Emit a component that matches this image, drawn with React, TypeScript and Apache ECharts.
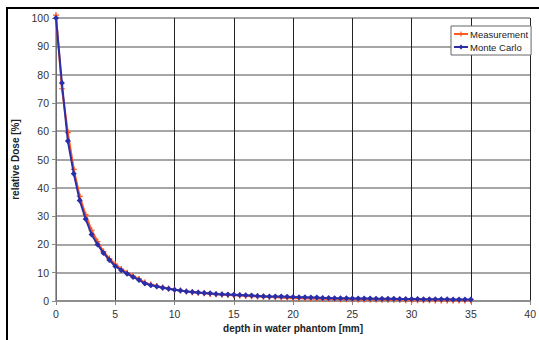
import React, { useEffect, useRef } from "react";
import * as echarts from "echarts";

const depth = [
  0, 0.5, 1, 1.5, 2, 2.5, 3, 3.5, 4, 4.5, 5, 5.5, 6, 6.5, 7, 7.5, 8, 8.5, 9, 9.5,
  10, 10.5, 11, 11.5, 12, 12.5, 13, 13.5, 14, 14.5, 15, 15.5, 16, 16.5, 17, 17.5,
  18, 18.5, 19, 19.5, 20, 20.5, 21, 21.5, 22, 22.5, 23, 23.5, 24, 24.5, 25, 25.5,
  26, 26.5, 27, 27.5, 28, 28.5, 29, 29.5, 30, 30.5, 31, 31.5, 32, 32.5, 33, 33.5,
  34, 34.5, 35,
];

const measurement = [
  101, 75, 59.5, 46.5, 37, 30.5, 25, 21, 17.5, 15, 13, 11.3, 10, 8.8, 7.8, 6.5,
  5.8, 5.3, 4.8, 4.4, 4.0, 3.7, 3.4, 3.1, 2.9, 2.7, 2.5, 2.4, 2.2, 2.1, 2.0, 1.9,
  1.8, 1.7, 1.6, 1.5, 1.4, 1.3, 1.2, 1.1, 1.0, 1.0, 0.9, 0.9, 0.8, 0.8, 0.7, 0.7,
  0.6, 0.6, 0.6, 0.5, 0.5, 0.5, 0.5, 0.4, 0.4, 0.4, 0.4, 0.3, 0.3, 0.3, 0.3, 0.3,
  0.2, 0.2, 0.2, 0.2, 0.2, 0.2, 0.2,
];

const monteCarlo = [
  100, 77, 56.5, 45, 35.5, 29, 23.5, 20, 17, 14.5, 12.3, 10.9, 9.6, 8.5, 7.4, 6.2,
  5.6, 5.1, 4.7, 4.3, 4.0, 3.7, 3.4, 3.2, 3.0, 2.8, 2.7, 2.5, 2.4, 2.3, 2.2, 2.1,
  2.0, 1.9, 1.8, 1.7, 1.6, 1.6, 1.6, 1.5, 1.4, 1.3, 1.3, 1.2, 1.2, 1.1, 1.1, 1.0,
  1.0, 1.0, 0.9, 0.9, 0.9, 0.9, 0.8, 0.8, 0.8, 0.8, 0.7, 0.7, 0.7, 0.7, 0.6, 0.6,
  0.6, 0.6, 0.6, 0.5, 0.5, 0.5, 0.5,
];

const seriesNames = ["Measurement", "Monte Carlo"];
const xTicks = { min: 0, max: 40, interval: 5 };
const yTicks = { min: 0, max: 100, interval: 10 };

const plusPath = "path://M0,4H3V0H5V4H8V6H5V10H3V6H0Z";

export default function App() {
  const ref = useRef<HTMLDivElement>(null);
  useEffect(() => {
    if (!ref.current) return;
    const chart = echarts.init(ref.current, undefined, { renderer: "svg" });
    const font = "'Liberation Sans', Arial, sans-serif";
    chart.setOption({
      animation: false,
      backgroundColor: "#ffffff",
      textStyle: { fontFamily: font },
      graphic: [
        {
          type: "rect",
          shape: { x: 7, y: 8, width: 600, height: 400 },
          style: { fill: "none", stroke: "#000", lineWidth: 2 },
          silent: true,
        },
      ],
      grid: { left: 56, right: 5, top: 18, bottom: 39, containLabel: false },
      legend: {
        left: 451,
        top: 26,
        orient: "vertical",
        itemWidth: 14,
        itemHeight: 6,
        itemGap: 3,
        padding: [3, 3, 3, 2],
        borderColor: "#666",
        borderWidth: 1,
        backgroundColor: "#fff",
        textStyle: { fontSize: 9.5, color: "#222", fontFamily: font, padding: [0, 0, 0, -3] },
        data: seriesNames,
      },
      xAxis: {
        type: "value",
        min: xTicks.min,
        max: xTicks.max,
        interval: xTicks.interval,
        name: "depth in water phantom [mm]",
        nameLocation: "middle",
        nameGap: 21,
        nameTextStyle: { fontSize: 10, fontWeight: "bold", color: "#222", fontFamily: font },
        axisLine: { lineStyle: { color: "#888", width: 1.5 } },
        axisTick: { show: true, length: 4, lineStyle: { color: "#888" } },
        axisLabel: { fontSize: 10.5, color: "#333", margin: 7, fontFamily: font },
        splitLine: { show: true, lineStyle: { color: "#222", width: 1 } },
      },
      yAxis: {
        type: "value",
        min: yTicks.min,
        max: yTicks.max,
        interval: yTicks.interval,
        name: "relative Dose [%]",
        nameLocation: "middle",
        nameGap: 34,
        nameTextStyle: { fontSize: 10, fontWeight: "bold", color: "#222", fontFamily: font },
        axisLine: { show: true, lineStyle: { color: "#888", width: 1.5 } },
        axisTick: { show: true, length: 4, lineStyle: { color: "#888" } },
        axisLabel: { fontSize: 10.5, color: "#333", margin: 7, fontFamily: font },
        splitLine: { show: true, lineStyle: { color: "#888", width: 1.5 } },
      },
      series: [
        {
          name: seriesNames[0],
          type: "line",
          data: depth.map((d, i) => [d, measurement[i]]),
          symbol: plusPath,
          symbolSize: 6,
          showAllSymbol: true,
          clip: false,
          lineStyle: { color: "#ff5a1f", width: 2 },
          itemStyle: { color: "#ff5a1f" },
          z: 2,
        },
        {
          name: seriesNames[1],
          type: "line",
          data: depth.map((d, i) => [d, monteCarlo[i]]),
          symbol: "diamond",
          symbolSize: 6,
          showAllSymbol: true,
          clip: false,
          lineStyle: { color: "#2b2ea8", width: 2 },
          itemStyle: { color: "#2b2ea8" },
          z: 3,
        },
      ],
    });
    return () => chart.dispose();
  }, []);
  return (
    <div
      ref={ref}
      style={{ position: "fixed", left: 0, top: 0, width: 539, height: 340 }}
    />
  );
}
